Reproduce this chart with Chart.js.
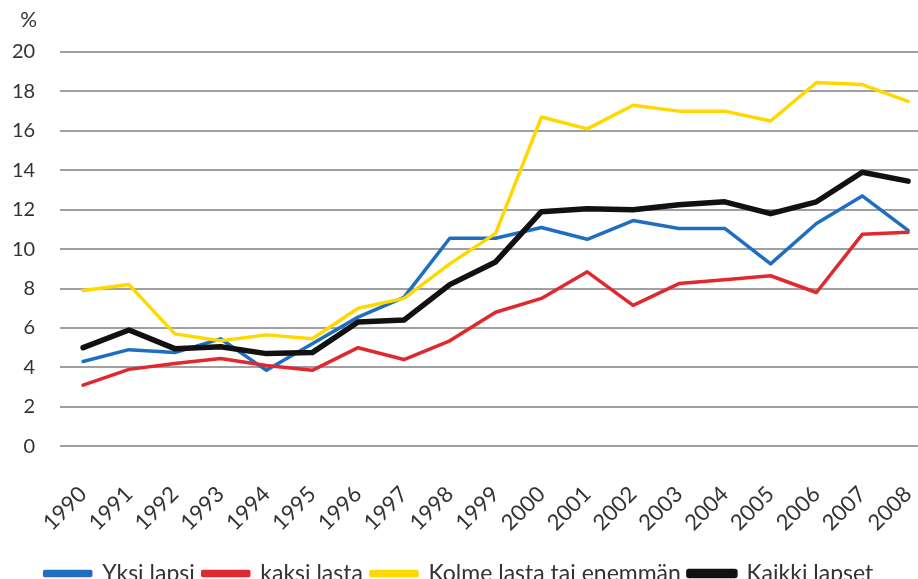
<!DOCTYPE html>
<html>
<head>
<meta charset="utf-8">
<script src="https://cdn.jsdelivr.net/npm/chart.js@4"></script>
<style>
html,body{margin:0;padding:0;background:#fff;overflow:hidden;}
#wrap{position:relative;width:918px;height:579px;overflow:hidden;}
canvas{position:absolute;left:0;top:0;}
</style>
</head>
<body>
<div id="wrap"><canvas id="c" width="932" height="595"></canvas></div>
<script>
const years = ["1990","1991","1992","1993","1994","1995","1996","1997","1998","1999","2000","2001","2002","2003","2004","2005","2006","2007","2008"];
const yksiLapsi   = [4.3, 4.9, 4.75, 5.45, 3.85, 5.2, 6.55, 7.55, 10.55, 10.55, 11.1, 10.5, 11.45, 11.05, 11.05, 9.25, 11.3, 12.7, 10.95];
const kaksiLasta  = [3.1, 3.9, 4.2, 4.45, 4.1, 3.85, 5.0, 4.4, 5.35, 6.8, 7.5, 8.85, 7.15, 8.25, 8.45, 8.65, 7.8, 10.75, 10.85];
const kolmeLasta  = [7.9, 8.2, 5.7, 5.35, 5.65, 5.45, 7.0, 7.5, 9.25, 10.8, 16.7, 16.1, 17.3, 17.0, 17.0, 16.5, 18.45, 18.35, 17.5];
const kaikkiLapset= [5.0, 5.9, 4.95, 5.05, 4.7, 4.75, 6.3, 6.4, 8.2, 9.35, 11.9, 12.05, 12.0, 12.25, 12.4, 11.8, 12.4, 13.9, 13.45];
const seriesNames = ["Yksi lapsi", "kaksi lasta", "Kolme lasta tai enemmän", "Kaikki lapset"];
const yTicks = [0, 2, 4, 6, 8, 10, 12, 14, 16, 18, 20];
const unitLabel = "%";

const FONT = "Lato, 'Open Sans', sans-serif";

const percentPlugin = {
  id: 'percentLabel',
  afterDraw(chart) {
    const ctx = chart.ctx;
    const y = chart.scales.y;
    ctx.save();
    ctx.font = "21px " + FONT;
    ctx.fillStyle = "#333";
    ctx.textAlign = "right";
    ctx.textBaseline = "middle";
    ctx.fillText(unitLabel, y.right - 23, 20);
    ctx.restore();
  }
};

new Chart(document.getElementById('c'), {
  type: 'line',
  data: {
    labels: years,
    datasets: [
      { label: seriesNames[0], data: yksiLapsi, borderColor: '#1f6ebf', backgroundColor: '#1f6ebf', borderWidth: 3.5, order: 4 },
      { label: seriesNames[1], data: kaksiLasta, borderColor: '#e0292e', backgroundColor: '#e0292e', borderWidth: 3.5, order: 3 },
      { label: seriesNames[2], data: kolmeLasta, borderColor: '#ffd800', backgroundColor: '#ffd800', borderWidth: 3.5, order: 2 },
      { label: seriesNames[3], data: kaikkiLapset, borderColor: '#111111', backgroundColor: '#111111', borderWidth: 5.5, order: 1 }
    ]
  },
  options: {
    responsive: false,
    animation: false,
    events: [],
    elements: { point: { radius: 0 }, line: { tension: 0, borderJoinStyle: 'round', borderCapStyle: 'round' } },
    layout: { padding: { top: 52, left: -13, right: 1, bottom: 0 } },
    plugins: {
      legend: {
        position: 'bottom',
        labels: {
          font: { family: FONT, size: 23 },
          color: '#333',
          boxWidth: 46,
          boxHeight: 4,
          padding: 8,
          sort: (a, b) => a.datasetIndex - b.datasetIndex
        }
      },
      tooltip: { enabled: false },
      title: { display: false }
    },
    scales: {
      x: {
        offset: true,
        grid: { display: false, drawTicks: false },
        border: { display: false },
        afterFit(scale) { scale.paddingLeft = 0; scale.paddingRight = 0; scale.height -= 17; },
        ticks: {
          font: { family: FONT, size: 22 },
          color: '#333',
          minRotation: 45,
          maxRotation: 45,
          padding: 35,
          autoSkip: false
        }
      },
      y: {
        min: 0,
        max: 20,
        afterBuildTicks(scale) { scale.ticks = yTicks.map(v => ({ value: v })); },
        grid: { color: '#a0a0a0', lineWidth: 2, drawTicks: false },
        border: { display: false },
        ticks: {
          font: { family: FONT, size: 20 },
          color: '#333',
          padding: 25
        }
      }
    }
  },
  plugins: [percentPlugin]
});
</script>
</body>
</html>
